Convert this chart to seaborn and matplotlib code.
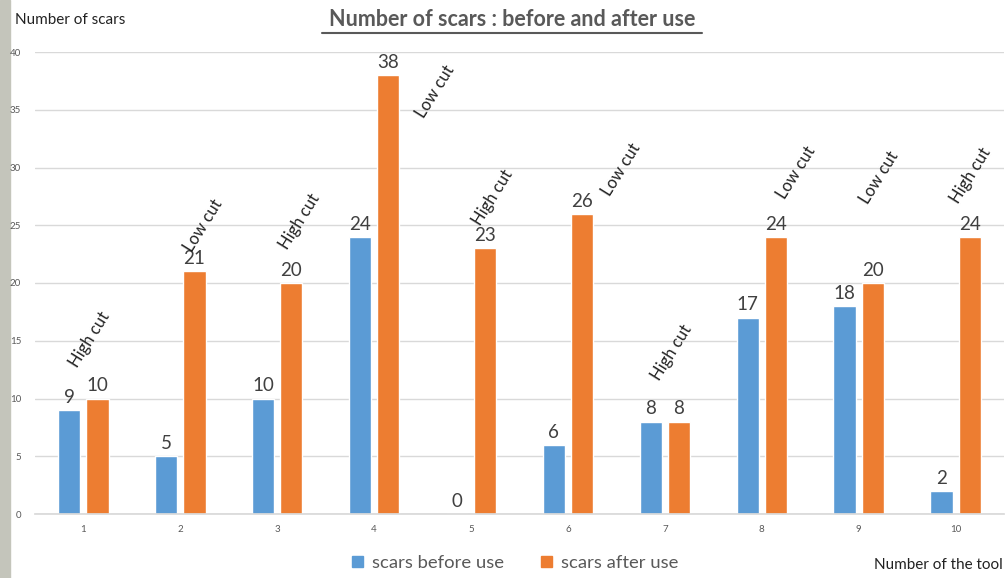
import matplotlib
matplotlib.use("Agg")
import matplotlib.pyplot as plt
import seaborn as sns
import pandas as pd
from matplotlib.patches import Rectangle
from matplotlib.lines import Line2D

tools = ["1", "2", "3", "4", "5", "6", "7", "8", "9", "10"]
before = [9, 5, 10, 24, 0, 6, 8, 17, 18, 2]
after = [10, 21, 20, 38, 23, 26, 8, 24, 20, 24]
cut_labels = ["High cut", "Low cut", "High cut", "Low cut", "High cut",
              "Low cut", "High cut", "Low cut", "Low cut", "High cut"]
series_names = ["scars before use", "scars after use"]

# positions of the rotated cut annotations (data coords)
cut_x = [0.06, 1.24, 2.23, 3.63, 4.22, 5.55, 6.07, 7.36, 8.21, 9.16]
cut_y = [15.1, 25.0, 25.3, 36.6, 27.4, 29.8, 14.0, 29.6, 29.1, 29.3]

df = pd.DataFrame({
    "tool": tools * 2,
    "value": before + after,
    "series": [series_names[0]] * len(tools) + [series_names[1]] * len(tools),
})

sns.set_theme(style="white")
plt.rcParams["font.family"] = ["Lato", "DejaVu Sans"]

fig = plt.figure(figsize=(10.06, 5.78), dpi=100)
fig.patch.set_facecolor("white")
ax = fig.add_axes([35 / 1006, 1 - 514 / 578, (1004 - 35) / 1006, (514 - 52) / 578])

palette = {series_names[0]: "#5B9BD5", series_names[1]: "#ED7D31"}
sns.barplot(data=df, x="tool", y="value", hue="series", order=tools,
            hue_order=series_names, palette=palette, width=0.58, gap=0.21,
            saturation=1, ax=ax, legend=False)

for cont in ax.containers:
    ax.bar_label(cont, fmt="%d", padding=3, fontsize=13.5, color="#404040")

ax.set_ylim(0, 40)
ax.set_xlim(-0.5, len(tools) - 0.5)
ax.set_yticks(range(0, 41, 5))
ax.yaxis.grid(True, color="#d9d9d9", linewidth=1)
ax.set_axisbelow(True)
for s in ["top", "right", "left"]:
    ax.spines[s].set_visible(False)
ax.spines["bottom"].set_color("#d9d9d9")
ax.tick_params(axis="both", labelsize=7, colors="#595959", length=0)
ax.tick_params(axis="y", pad=10)
ax.tick_params(axis="x", pad=8)
ax.set_xlabel("")
ax.set_ylabel("")

for lab, x, y in zip(cut_labels, cut_x, cut_y):
    ax.text(x, y, lab, rotation=58, ha="center", va="center",
            fontsize=12, color="#222222", rotation_mode="anchor")

# title with underline
fig.text(512 / 1006, 1 - 20 / 578, "Number of scars : before and after use",
         ha="center", va="center", fontsize=15.5, fontweight="bold", color="#595959")
fig.add_artist(Line2D([322 / 1006, 702 / 1006], [1 - 33 / 578, 1 - 33 / 578],
                      color="#595959", linewidth=1.5, transform=fig.transFigure))

fig.text(15 / 1006, 1 - 20 / 578, "Number of scars", ha="left", va="center",
         fontsize=11, color="#222222")
fig.text(1003 / 1006, 1 - 565 / 578, "Number of the tool", ha="right", va="center",
         fontsize=11, color="#222222")

handles = [Rectangle((0, 0), 1, 1, color=palette[n]) for n in series_names]
fig.legend(handles, series_names, loc="center", bbox_to_anchor=(515 / 1006, 1 - 563 / 578),
           ncol=2, frameon=False, fontsize=13.3, labelcolor="#595959",
           handlelength=0.6, handleheight=0.6, columnspacing=2.0, handletextpad=0.5)

# grey photo strip on the left edge
fig.add_artist(Rectangle((0, 0), 10 / 1006, 1, transform=fig.transFigure,
                         color="#c4c5bb", zorder=0))

fig.savefig("out.png", dpi=100)
